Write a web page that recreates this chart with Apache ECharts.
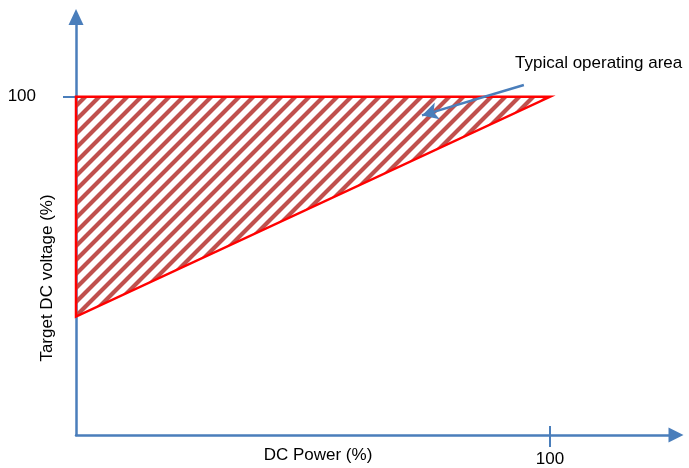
<!DOCTYPE html>
<html>
<head>
<meta charset="utf-8">
<script src="https://cdn.jsdelivr.net/npm/echarts@6.0.0/dist/echarts.min.js"></script>
<style>
  html, body { margin: 0; padding: 0; background: #fff; }
  #main { width: 689px; height: 468px; }
</style>
</head>
<body>
<div id="main"></div>
<script>
// triangle corners: DC power (%) vs target DC voltage (%)
var areaPower = [0, 100, 0]
var areaVoltage = [100, 100, 35]
var tickValues = [100]
var xTitle = 'DC Power (%)'
var yTitle = 'Target DC voltage (%)'
var noteText = 'Typical operating area'
// annotation arrow, from text to inside the area
var notePower = [94.5, 73]
var noteVoltage = [103.5, 94.5]

var axisColor = '#4A7EBB'
var font = 'Liberation Sans, Arial, sans-serif'

// diagonal hatch tile
function hatch() {
  var s = 14
  var c = document.createElement('canvas')
  c.width = s
  c.height = s
  var ctx = c.getContext('2d')
  ctx.strokeStyle = '#C0504D'
  ctx.lineWidth = 4.2
  ctx.beginPath()
  ctx.moveTo(-4, s + 4); ctx.lineTo(s + 4, -4)
  ctx.moveTo(-4, 4); ctx.lineTo(4, -4)
  ctx.moveTo(s - 4, s + 4); ctx.lineTo(s + 4, s - 4)
  ctx.stroke()
  return c
}

var myChart = echarts.init(document.getElementById('main'))
var xCommon = { type: 'value', min: 0, max: 126.6, splitLine: { show: false } }
var yCommon = { type: 'value', min: 0, max: 123.6, splitLine: { show: false } }

var options = {
  animation: false,
  grid: { left: 76, right: 13, top: 17, bottom: 32 },
  xAxis: [
    Object.assign({}, xCommon, {
      position: 'bottom',
      axisLine: { show: true, symbol: ['none', 'triangle'], symbolSize: [15, 15], lineStyle: { color: axisColor, width: 2.5 } },
      axisTick: { show: true, customValues: tickValues, length: 12, lineStyle: { color: axisColor, width: 2 } },
      axisLabel: { customValues: tickValues, color: '#000', fontSize: 17, fontFamily: font, margin: 16 }
    }),
    Object.assign({}, xCommon, {
      position: 'bottom',
      axisLine: { show: false },
      axisTick: { show: true, inside: true, customValues: tickValues, length: 9, lineStyle: { color: axisColor, width: 2 } },
      axisLabel: { show: false }
    })
  ],
  yAxis: [
    Object.assign({}, yCommon, {
      position: 'left',
      axisLine: { show: true, symbol: ['none', 'triangle'], symbolSize: [15, 16], lineStyle: { color: axisColor, width: 2.5 } },
      axisTick: { show: true, customValues: tickValues, length: 13, lineStyle: { color: axisColor, width: 2 } },
      axisLabel: { customValues: tickValues, color: '#000', fontSize: 17, fontFamily: font, margin: 40 }
    }),
    Object.assign({}, yCommon, {
      position: 'left',
      axisLine: { show: false },
      axisTick: { show: true, inside: true, customValues: tickValues, length: 9, lineStyle: { color: axisColor, width: 2 } },
      axisLabel: { show: false }
    })
  ],
  graphic: [
    { type: 'text', left: 515, top: 55, style: { text: noteText, fill: '#000', font: '17px ' + font } },
    { type: 'text', x: 318, y: 455, style: { text: xTitle, fill: '#000', font: '17px ' + font, align: 'center', verticalAlign: 'middle' } },
    { type: 'text', x: 47, y: 278, rotation: Math.PI / 2, style: { text: yTitle, fill: '#000', font: '17px ' + font, align: 'center', verticalAlign: 'middle' } }
  ],
  series: [
    {
      type: 'custom',
      xAxisIndex: 0,
      yAxisIndex: 0,
      data: [[areaPower[0], areaVoltage[0]]],
      renderItem: function (params, api) {
        var pts = areaPower.map(function (p, i) { return api.coord([p, areaVoltage[i]]) })
        return {
          type: 'polygon',
          shape: { points: pts },
          style: { fill: { image: hatch(), repeat: 'repeat' }, stroke: '#FF0000', lineWidth: 2.5 }
        }
      },
      markLine: {
        silent: true,
        symbol: ['none', 'arrow'],
        symbolSize: [13, 16],
        label: { show: false },
        lineStyle: { color: axisColor, width: 2.5, type: 'solid' },
        data: [[
          { coord: [notePower[0], noteVoltage[0]] },
          { coord: [notePower[1], noteVoltage[1]] }
        ]]
      },
      z: 3
    }
  ]
}
myChart.setOption(options)
</script>
</body>
</html>
